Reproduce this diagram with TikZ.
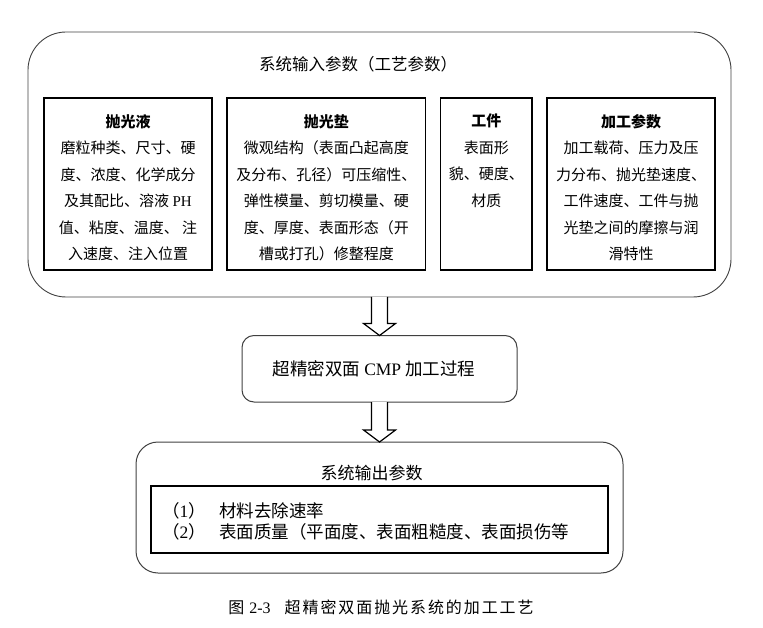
\documentclass[tikz,border=0pt]{standalone}
\usepackage{fontspec}
\setmainfont{Noto Sans CJK SC}
\newfontfamily\latin{Liberation Serif}
\newfontfamily\capfont[LetterSpace=12]{Noto Sans CJK SC}
\usetikzlibrary{calc}
\tikzset{
  outerbox/.style={draw=black!75, line width=0.9pt, rounded corners=38pt, inner sep=0pt, outer sep=0pt},
  inbox/.style={draw=black, line width=1.2pt, inner sep=0pt, outer sep=0pt, minimum height=172pt},
  intext/.style={anchor=north, inner sep=0pt, align=center, font=\fontsize{15}{26.5}\selectfont},
  midbox/.style={draw=black!75, line width=1pt, rounded corners=12pt, inner sep=0pt, outer sep=0pt},
  outbox/.style={draw=black!75, line width=1pt, rounded corners=22pt, inner sep=0pt, outer sep=0pt},
  listbox/.style={draw=black, line width=1.2pt, inner sep=0pt, outer sep=0pt},
  blockarrow/.style={draw=black, line width=1.2pt, fill=white},
  label/.style={inner sep=0pt}
}
\begin{document}
\begin{tikzpicture}[x=1pt,y=-1pt]
\useasboundingbox (0,0) rectangle (763,628);
% input panel
\node[outerbox, minimum width=703pt, minimum height=265pt] (outer) at (379.5,164.5) {};
\node[label, font=\fontsize{16.5}{18}\selectfont] (intitle) at (358,64) {系统输入参数（工艺参数）};
\node[inbox, minimum width=168pt] (b1) at (128,184) {};
\node[inbox, minimum width=198.5pt] (b2) at (326.25,184) {};
\node[inbox, minimum width=91.5pt] (b3) at (486.25,184) {};
\node[inbox, minimum width=168pt] (b4) at (631,184) {};
\node[intext] (t1) at ([yshift=-16pt]b1.north) {\textbf{抛光液}\\磨粒种类、尺寸、硬\\度、浓度、化学成分\\及其配比、溶液 {\latin PH}\\值、粘度、温度、 注\\入速度、注入位置};
\node[intext] (t2) at ([yshift=-16pt]b2.north) {\textbf{抛光垫}\\微观结构（表面凸起高度\\及分布、孔径）可压缩性、\\弹性模量、剪切模量、硬\\度、厚度、表面形态（开\\槽或打孔）修整程度};
\node[intext] (t3) at ([yshift=-16pt]b3.north) {\textbf{工件}\\表面形\\貌、硬度、\\材质};
\node[intext] (t4) at ([yshift=-16pt]b4.north) {\textbf{加工参数}\\加工载荷、压力及压\\力分布、抛光垫速度、\\工件速度、工件与抛\\光垫之间的摩擦与润\\滑特性};
% process
\node[midbox, minimum width=275pt, minimum height=66.5pt] (mid) at (379.5,368.75) {};
\node[label, font=\fontsize{17.5}{20}\selectfont] (midtext) at (374,369) {超精密双面 {\latin CMP} 加工过程};
% output
\node[outbox, minimum width=487pt, minimum height=131pt] (out) at (379.5,507.5) {};
\node[label, font=\fontsize{17}{20}\selectfont] (outtitle) at (371.5,473) {系统输出参数};
\node[listbox, minimum width=457pt, minimum height=67pt] (outin) at (379.5,519.5) {};
\node[label, anchor=west, align=left, font=\fontsize{17.5}{21}\selectfont] (list) at (162,521.5)
  {\makebox[57pt][l]{（{\latin 1}）}材料去除速率\\\makebox[57pt][l]{（{\latin 2}）}表面质量（平面度、表面粗糙度、表面损伤等};
% caption
\node[label, font=\fontsize{16}{18}\capfont] (cap) at (381,607) {图\hspace{5pt}{\latin 2-3}\hspace{14pt}超精密双面抛光系统的加工工艺};
% block arrows
\draw[blockarrow] ([xshift=-8pt]outer.south) -- ([xshift=-8pt,yshift=12pt]mid.north) -- ([xshift=-16pt,yshift=12pt]mid.north) -- (mid.north) -- ([xshift=16pt,yshift=12pt]mid.north) -- ([xshift=8pt,yshift=12pt]mid.north) -- ([xshift=8pt]outer.south);
\draw[blockarrow] ([xshift=-8pt]mid.south) -- ([xshift=-8pt,yshift=12pt]out.north) -- ([xshift=-16pt,yshift=12pt]out.north) -- (out.north) -- ([xshift=16pt,yshift=12pt]out.north) -- ([xshift=8pt,yshift=12pt]out.north) -- ([xshift=8pt]mid.south);
\end{tikzpicture}
\end{document}
